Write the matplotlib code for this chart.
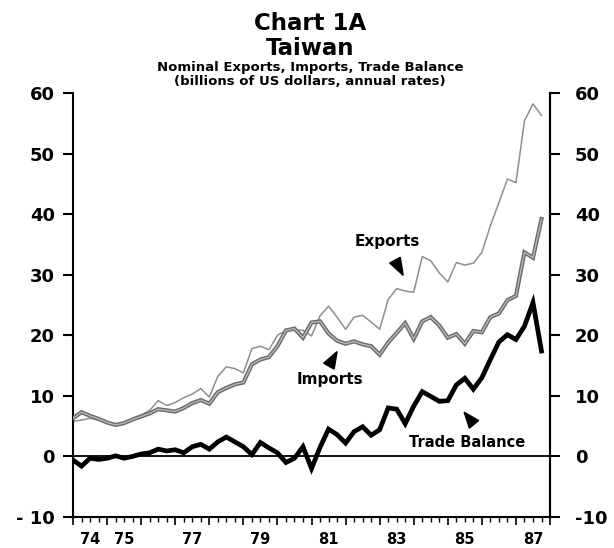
import numpy as np
import matplotlib
matplotlib.use("Agg")
import matplotlib.pyplot as plt
from matplotlib.patches import Polygon

# Taiwan quarterly trade, billions of US dollars (annual rates), 1974Q1 - 1987Q4
START_YEAR = 1974
exports = [5.8, 6.0, 6.3, 6.0, 5.5, 5.1, 5.5, 6.3, 6.8, 7.6,
           9.2, 8.4, 8.9, 9.7, 10.3, 11.2, 9.8, 13.2, 14.8, 14.5,
           13.8, 17.8, 18.2, 17.6, 20.0, 20.8, 20.9, 20.8, 19.9, 23.2,
           24.8, 23.0, 21.0, 23.0, 23.3, 22.2, 21.0, 25.9, 27.7, 27.3,
           27.1, 33.0, 32.3, 30.3, 28.8, 32.0, 31.6, 31.9, 33.7, 38.1,
           41.9, 45.8, 45.2, 55.4, 58.2, 56.3]
imports = [6.3, 7.3, 6.7, 6.2, 5.6, 5.2, 5.5, 6.1, 6.6, 7.1,
           7.8, 7.6, 7.4, 8.0, 8.8, 9.3, 8.7, 10.6, 11.3, 11.9,
           12.2, 15.2, 16.0, 16.4, 18.2, 20.8, 21.1, 19.6, 22.1, 22.3,
           20.3, 19.1, 18.6, 19.0, 18.5, 18.2, 16.8, 18.8, 20.4, 22.0,
           19.4, 22.3, 23.0, 21.6, 19.6, 20.2, 18.6, 20.7, 20.5, 23.0,
           23.6, 25.8, 26.5, 33.7, 32.8, 39.2]
trade_balance = [-0.6, -1.6, -0.3, -0.5, -0.3, 0.1, -0.3, 0.0, 0.4, 0.6,
                 1.2, 0.9, 1.1, 0.6, 1.6, 2.0, 1.2, 2.4, 3.2, 2.4,
                 1.6, 0.3, 2.3, 1.4, 0.6, -1.0, -0.3, 1.6, -2.0, 1.5,
                 4.5, 3.6, 2.2, 4.1, 4.9, 3.5, 4.4, 8.0, 7.8, 5.4,
                 8.3, 10.7, 9.9, 9.1, 9.2, 11.8, 12.9, 11.1, 13.0, 16.0,
                 18.9, 20.1, 19.3, 21.5, 25.4, 17.4]

year_labels = ["74", "75", "77", "79", "81", "83", "85", "87"]
label_years = [1974, 1975, 1977, 1979, 1981, 1983, 1985, 1987]
y_ticks = [-10, 0, 10, 20, 30, 40, 50, 60]

t = START_YEAR + np.arange(len(exports)) * 0.25

fig = plt.figure(figsize=(6.14, 5.48), dpi=100)
ax = fig.add_axes([0.1189, 0.0566, 0.7769, 0.7737])

ax.axhline(0, color="black", lw=1.3, zorder=1)
ax.plot(t, exports, color="#8e8e8e", lw=1.1, zorder=2)
ax.plot(t, imports, color="#6c6c6c", lw=3.0, zorder=3, solid_joinstyle="miter")
ax.plot(t, imports, color="#bdbdbd", lw=0.9, zorder=4)
ax.plot(t, trade_balance, color="black", lw=3.4, zorder=5, solid_joinstyle="miter")

ax.set_xlim(1974.0, 1988.0)
ax.set_ylim(-10, 60)

ax.spines["top"].set_visible(False)
for s in ["left", "right", "bottom"]:
    ax.spines[s].set_linewidth(1.5)

bold = dict(family="DejaVu Sans", weight="bold")
ax.set_yticks(y_ticks)
ax.set_yticklabels(["- 10" if v < 0 else str(v) for v in y_ticks], fontsize=13, **bold)
ax.tick_params(axis="y", which="major", direction="out", length=7, width=1.5,
               left=True, right=True, labelleft=True, labelright=False, pad=6)

# right-hand labels with a wider gap, as in the original
axr = ax.twinx()
axr.set_ylim(ax.get_ylim())
axr.set_yticks(y_ticks)
axr.set_yticklabels(["-10" if v < 0 else str(v) for v in y_ticks], fontsize=13, **bold)
axr.tick_params(axis="y", direction="out", length=7, width=1.5, pad=11)
for s in ["top", "left", "bottom"]:
    axr.spines[s].set_visible(False)
axr.spines["right"].set_linewidth(1.5)

# x axis: year ticks and quarter ticks, labels at mid-year
ax.set_xticks(np.arange(1974, 1989, 1))
ax.set_xticks(np.arange(1974, 1988.01, 0.25), minor=True)
ax.tick_params(axis="x", which="major", direction="out", length=6, width=1.2, labelbottom=False)
ax.tick_params(axis="x", which="minor", direction="out", length=3.5, width=1.0)
sec = ax.secondary_xaxis("bottom")
sec.set_xticks([y + 0.5 for y in label_years])
sec.set_xticklabels(year_labels, fontsize=10.5, **bold)
sec.tick_params(length=0, pad=11)
sec.spines["bottom"].set_visible(False)

# titles
fig.text(0.505, 0.958, "Chart 1A", ha="center", va="center", fontsize=16.5, **bold)
fig.text(0.505, 0.912, "Taiwan", ha="center", va="center", fontsize=16.5, **bold)
fig.text(0.505, 0.876, "Nominal Exports, Imports, Trade Balance", ha="center", va="center",
         fontsize=9.5, **bold)
fig.text(0.505, 0.852, "(billions of US dollars, annual rates)", ha="center", va="center",
         fontsize=9.5, **bold)

# series labels with arrowheads
ax.text(1983.22, 35.5, "Exports", ha="center", va="center", fontsize=11, **bold)
ax.text(1981.54, 12.7, "Imports", ha="center", va="center", fontsize=11, **bold)
ax.text(1985.56, 2.3, "Trade Balance", ha="center", va="center", fontsize=10.5, **bold)

def arrowhead(tip, base):
    # small filled triangle, tip/base in data coords, sized in pixels
    tx, ty = tip
    bx, by = base
    sx = 34.07   # px per year
    sy = 6.04    # px per unit
    dx, dy = (tx - bx) * sx, (ty - by) * sy
    n = np.hypot(dx, dy)
    px, py = -dy / n, dx / n
    w = 6.0
    p1 = (bx + px * w / sx, by + py * w / sy)
    p2 = (bx - px * w / sx, by - py * w / sy)
    ax.add_patch(Polygon([tip, p1, p2], closed=True, color="black", zorder=6))

arrowhead((1983.69, 29.9), (1983.45, 32.4))
arrowhead((1981.75, 17.3), (1981.51, 14.9))
arrowhead((1985.48, 7.3), (1985.77, 5.3))

plt.savefig("out.png", dpi=100)
